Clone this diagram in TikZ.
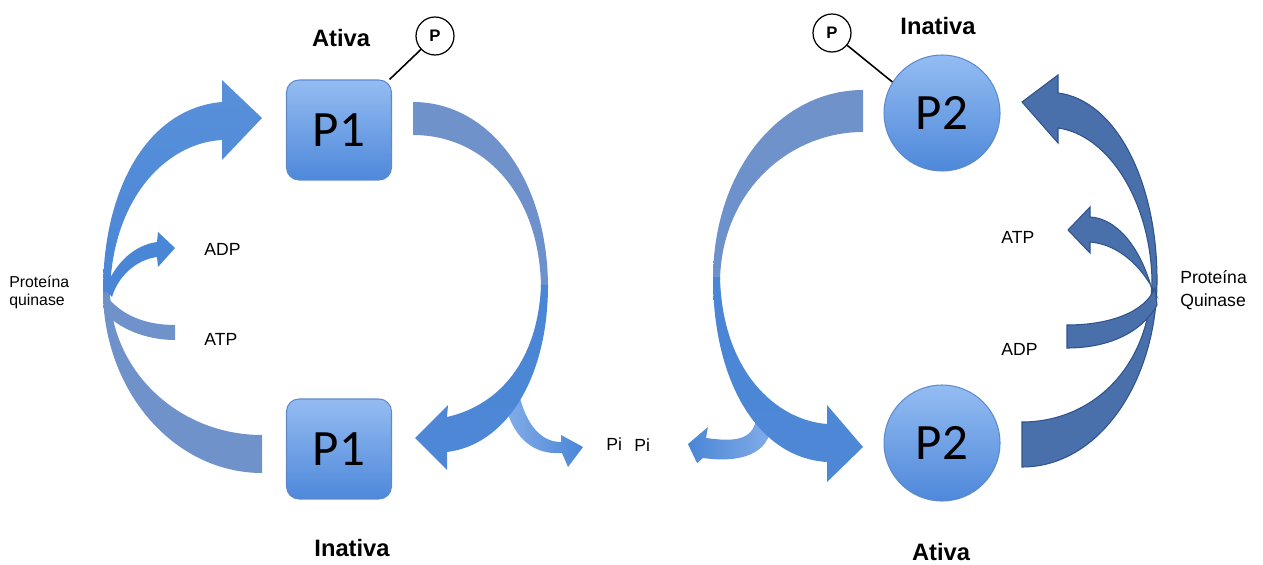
\documentclass[tikz,border=0pt]{standalone}
\usepackage{fontspec}
\setmainfont{Liberation Sans}
\newfontfamily\calfont{Carlito}
\definecolor{brightblue}{RGB}{74,134,214}
\definecolor{greyblue}{RGB}{112,146,202}
\definecolor{lightblue}{RGB}{130,172,232}
\definecolor{darkfill}{RGB}{74,112,171}
\definecolor{darkline}{RGB}{47,84,140}
\definecolor{boxtop}{RGB}{148,188,242}
\definecolor{boxbot}{RGB}{78,136,218}
\definecolor{boxline}{RGB}{94,138,204}
\begin{document}
\begin{tikzpicture}[x=0.02cm,y=-0.02cm,
  headpiece/.style={top color=brightblue!92!white, bottom color=brightblue},
  tailpiece/.style={top color=greyblue, bottom color=greyblue!90!brightblue},
  headpieceup/.style={top color=brightblue, bottom color=brightblue!90!greyblue},
  tailpiecedown/.style={top color=greyblue!95!brightblue, bottom color=greyblue},
  piarrow/.style={left color=lightblue, right color=brightblue},
  darkarrow/.style={fill=darkfill, draw=darkline, line width=0.6pt},
  protbox/.style={draw=boxline, line width=0.6pt, rounded corners=0.25cm, top color=boxtop, bottom color=boxbot, minimum width=2.1cm, minimum height=2.0cm, inner sep=0pt, font=\calfont\fontsize{29}{30}\selectfont},
  protcirc/.style={circle, draw=boxline, line width=0.6pt, top color=boxtop, bottom color=boxbot, minimum size=2.32cm, inner sep=0pt, font=\calfont\fontsize{29}{30}\selectfont},
  pin/.style={circle, draw=black, line width=0.7pt, fill=white, minimum size=0.76cm, inner sep=0pt, font=\bfseries\fontsize{9.5}{10}\selectfont},
  pinline/.style={draw=black, line width=0.9pt},
  state/.style={font=\bfseries\fontsize{13.5}{15}\selectfont},
  lab/.style={font=\fontsize{10}{12}\selectfont},
]
\useasboundingbox (0,0) rectangle (1263,564);

% ---------- left cycle: left big arrow ----------
\path[tailpiecedown] (262,435) -- (262,473) .. controls (174,473) and (103,391) .. (103,290) -- (110,290) .. controls (110,370) and (178,435) .. (262,435) -- cycle;
\path[headpiece] (103,292) .. controls (103,185) and (150,108) .. (222,102) -- (222,80) -- (262,118) -- (222,160) -- (222,140) .. controls (165,143) and (112,200) .. (110,292) -- cycle;
% small arrows (left)
\path[fill=greyblue] (108,298) .. controls (125,318) and (150,325) .. (175,325) -- (175,340) .. controls (145,340) and (118,328) .. (104,312) -- cycle;
\path[fill=brightblue] (105,290) .. controls (115,262) and (135,245) .. (157,242) -- (158,232) -- (175,248) -- (158,267) -- (157,257) .. controls (135,260) and (118,277) .. (112,297) -- cycle;

% ---------- left cycle: right big arrow ----------
\path[piarrow] (506,408) .. controls (515,440) and (535,455) .. (562,453) -- (568,467) -- (583,447) -- (561,435) -- (561,442) .. controls (543,442) and (528,428) .. (520,398) -- cycle;
\path[tailpiece] (413,102) .. controls (490,102) and (548,180) .. (548,288) -- (541,288) .. controls (540,195) and (485,135) .. (413,135) -- cycle;
\path[headpieceup] (548,285) .. controls (548,380) and (505,445) .. (447,452) -- (447,470) -- (415,438) -- (448,405) -- (447,417) .. controls (500,405) and (538,360) .. (541,285) -- cycle;

% ---------- right cycle: left big arrow ----------
\path[piarrow, left color=brightblue, right color=lightblue] (772,425) .. controls (768,455) and (740,463) .. (703,458) -- (697,463) -- (688,444) -- (708,427) -- (706,438) .. controls (735,442) and (752,440) .. (756,420) -- cycle;
\path[tailpiece] (863,90) .. controls (780,90) and (713,170) .. (713,280) -- (720,280) .. controls (722,190) and (790,132) .. (863,132) -- cycle;
\path[headpieceup] (713,277) .. controls (713,385) and (760,458) .. (827,462) -- (827,482) -- (863,447) -- (827,405) -- (827,424) .. controls (775,420) and (722,370) .. (720,277) -- cycle;

% ---------- right cycle: dark arrows ----------
\path[darkarrow] (1022,422) -- (1022,467) .. controls (1100,467) and (1157,380) .. (1157,280) .. controls (1157,180) and (1115,100) .. (1058,93) -- (1058,75) -- (1022,102) -- (1058,143) -- (1058,128) .. controls (1108,135) and (1150,200) .. (1152,280) .. controls (1150,370) and (1090,422) .. (1022,422) -- cycle;
\path[darkarrow] (1152,290) .. controls (1140,245) and (1115,218) .. (1090,217) -- (1090,207) -- (1068,230) -- (1090,253) -- (1090,242) .. controls (1115,244) and (1140,262) .. (1156,295) -- cycle;
\path[darkarrow] (1067,325) .. controls (1110,325) and (1145,312) .. (1155,288) -- (1157,305) .. controls (1140,335) and (1105,348) .. (1067,348) -- cycle;

% ---------- pins ----------
\node[pin] (pin1) at (435,36) {P};
\node[pin] (pin2) at (832,33) {P};

% ---------- proteins ----------
\node[protbox] (p1a) at (339,130) {P1};
\node[protbox] (p1i) at (339,449) {P1};
\node[protcirc] (p2i) at (942,113) {P2};
\node[protcirc] (p2a) at (942,443) {P2};

\draw[pinline] (pin1) -- (p1a.45);
\draw[pinline] (pin2) -- (p2i.148);

% ---------- labels ----------
\node[state] (t1) at (341,38) {Ativa};
\node[state] (t2) at (352,548) {Inativa};
\node[state] (t3) at (938,26) {Inativa};
\node[state] (t4) at (941,552) {Ativa};

\node[font=\fontsize{9}{10.3}\selectfont, align=left, anchor=west, inner sep=0pt] (pk1) at (9,292) {Proteína\\quinase};
\node[font=\fontsize{10}{13}\selectfont, align=left, anchor=west, inner sep=0pt] (pk2) at (1180,290) {Proteína\\Quinase};

\node[lab, anchor=west, inner sep=0pt] (adp1) at (204,249) {ADP};
\node[lab, anchor=west, inner sep=0pt] (atp1) at (204,339) {ATP};
\node[lab, anchor=west, inner sep=0pt] (atp2) at (1001,237) {ATP};
\node[lab, anchor=west, inner sep=0pt] (adp2) at (1001,349) {ADP};
\node[lab, anchor=west, inner sep=0pt] (pi1) at (606,444) {Pi};
\node[lab, anchor=west, inner sep=0pt] (pi2) at (634,445) {Pi};
\end{tikzpicture}
\end{document}
